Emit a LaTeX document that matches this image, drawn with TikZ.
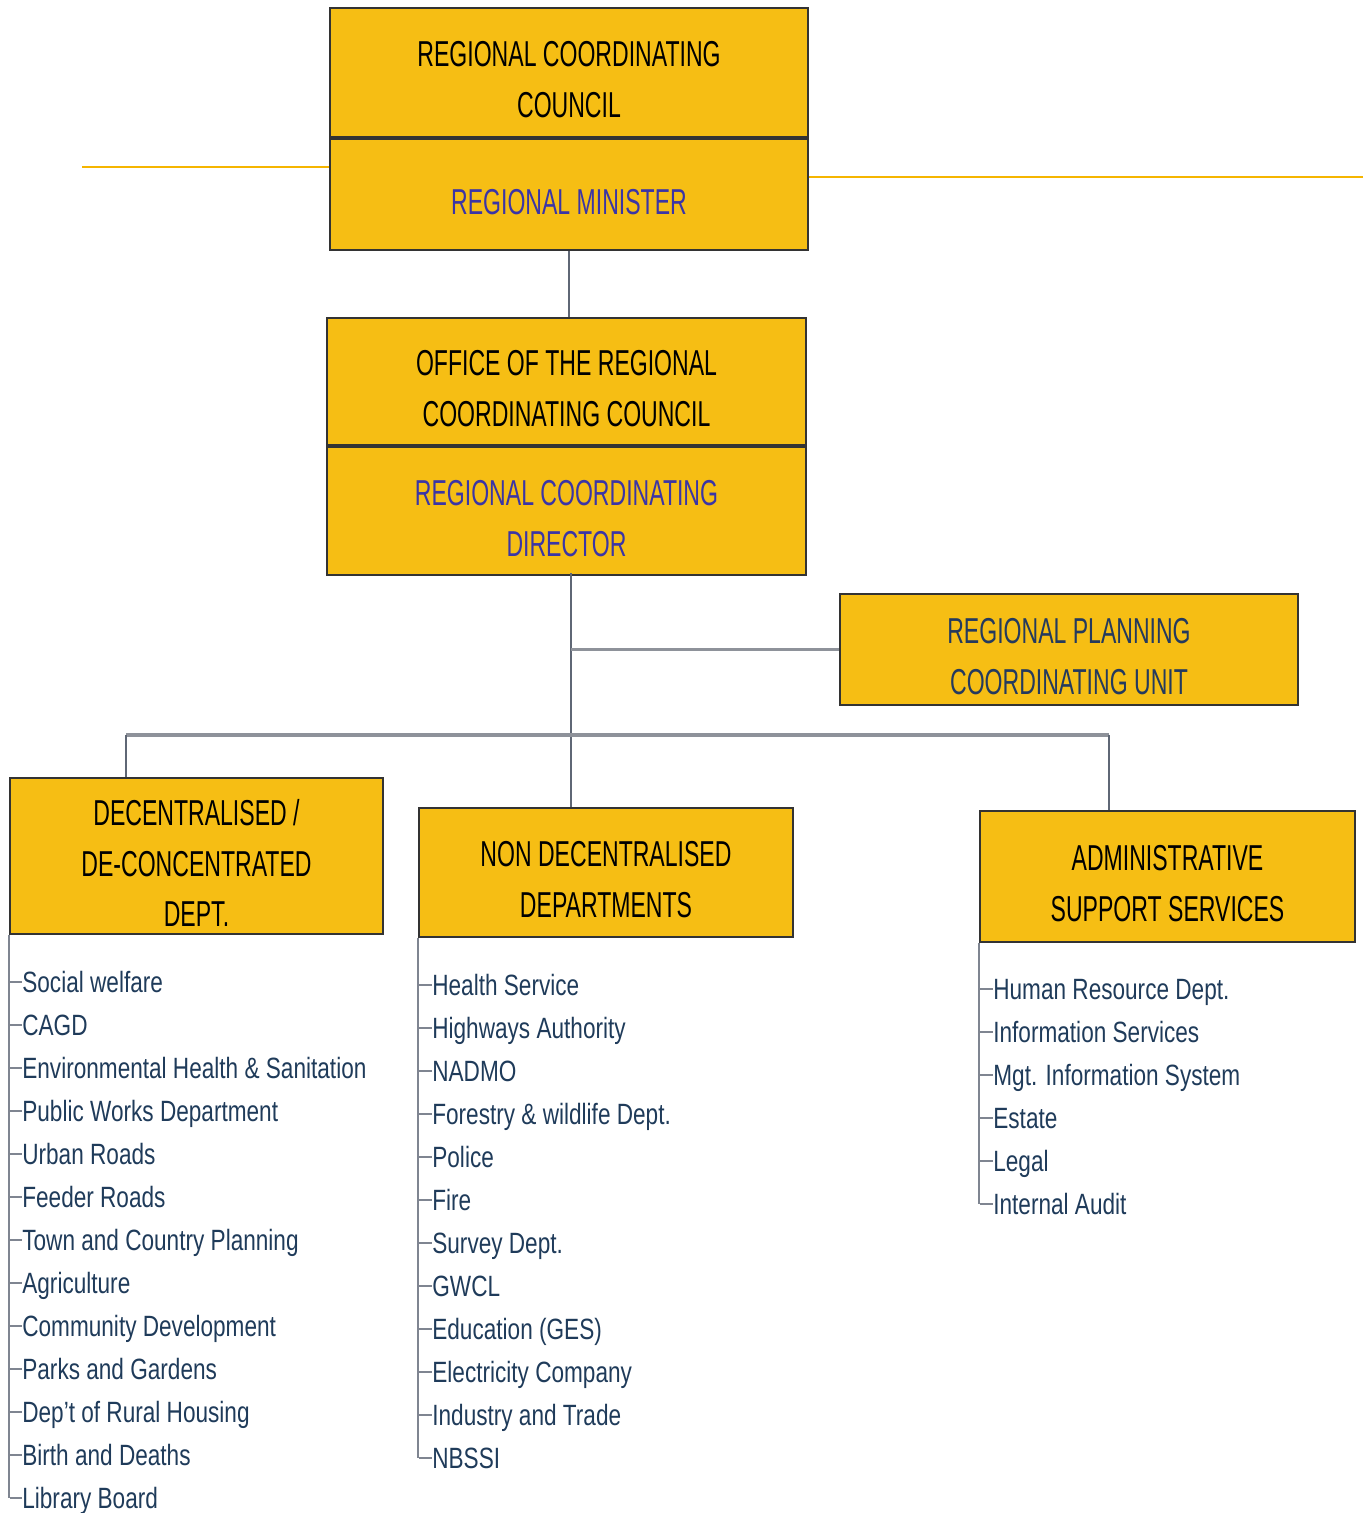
\documentclass[tikz,border=0pt]{standalone}
\usepackage{fontspec}
\setmainfont[FakeStretch=0.77]{Liberation Sans}
\newfontfamily\headfont[FakeStretch=0.64]{Liberation Sans}
\usetikzlibrary{positioning}
\definecolor{boxgold}{HTML}{F6BE14}
\definecolor{bandgold}{HTML}{F5B500}
\definecolor{chiefblue}{HTML}{3B35A6}
\definecolor{unitblue}{HTML}{243A5E}
\definecolor{listblue}{HTML}{1F3B5A}
\definecolor{linegray}{HTML}{5F6775}
\definecolor{bargray}{HTML}{8E929A}
\newcommand{\hstrut}{\rule{0pt}{0.8cm}}
\begin{document}
\begin{tikzpicture}[x=0.02cm,y=-0.02cm,
		box/.style={draw=black!80,line width=1.1pt,fill=boxgold,inner sep=0pt,align=center,
			font=\headfont\fontsize{20.5}{29}\selectfont},
		conn/.style={draw=linegray,line width=0.6pt},
		bar/.style={draw=bargray,line width=1.8pt},
		band/.style={draw=bandgold,line width=1.2pt},
		twig/.style={draw=linegray!80,line width=0.8pt},
		item/.style={anchor=west,inner sep=0pt,text height=0.42cm,text depth=0pt,
			text=listblue,font=\fontsize{16.7}{20}\selectfont}]
	\useasboundingbox (0,0) rectangle (1363,1513);
	% top of the chart
	\node[box,minimum width=9.56cm,minimum height=2.58cm] (rcc) at (569,72.5) {\hstrut REGIONAL COORDINATING\\COUNCIL};
	\node[box,minimum width=9.56cm,minimum height=2.22cm,below=0pt of rcc,text=chiefblue] (minister) {\hstrut REGIONAL MINISTER};
	\coordinate (bandl) at (82,167);
	\coordinate (bandr) at (1363,177);
	\draw[band] (bandl) -- (bandl -| minister.west);
	\draw[band] (bandr) -- (bandr -| minister.east);
	\node[box,minimum width=9.58cm,minimum height=2.54cm] (office) at (566.5,381.5) {\hstrut OFFICE OF THE REGIONAL\\COORDINATING COUNCIL};
	\node[box,minimum width=9.58cm,minimum height=2.56cm,below=0pt of office,text=chiefblue] (director) {\hstrut REGIONAL COORDINATING\\DIRECTOR};
	\node[box,minimum width=9.16cm,minimum height=2.22cm,text=unitblue] (rpcu) at (1069,649.5) {\hstrut REGIONAL PLANNING\\COORDINATING UNIT};
	% departments
	\node[box,minimum width=7.46cm,minimum height=3.12cm] (decon) at (196.5,856) {\hstrut DECENTRALISED /\\DE-CONCENTRATED\\DEPT.};
	\node[box,minimum width=7.48cm,minimum height=2.58cm] (nondec) at (606,872.5) {\hstrut NON DECENTRALISED\\DEPARTMENTS};
	\node[box,minimum width=7.5cm,minimum height=2.62cm] (admin) at (1167.5,876.5) {\hstrut ADMINISTRATIVE\\SUPPORT SERVICES};
	\draw[conn] (minister.south) -- (minister.south |- office.north);
	\coordinate (trunk) at (571,573);
	\draw[conn] (trunk) -- (trunk |- nondec.north);
	\draw[bar] (trunk |- rpcu.west) -- (rpcu.west);
	\coordinate (lbar) at (126,735);
	\coordinate (rbar) at (1109,735);
	\draw[bar] (lbar) -- (rbar);
	\draw[conn] (lbar) -- (lbar |- decon.north);
	\draw[conn] (rbar) -- (rbar |- admin.north);
	% lists
	\foreach \t [count=\i] in {Social welfare,CAGD,Environmental Health \& Sanitation,Public Works Department,
		Urban Roads,Feeder Roads,Town and Country Planning,Agriculture,Community Development,
		Parks and Gardens,Dep't of Rural Housing,Birth and Deaths,Library Board}{
		\node[item] (dc\i) at (22,939+43*\i) {\t};
		\draw[twig] (10,939+43*\i) -- (dc\i.west);
	}
	\draw[twig] (decon.south west) -- (decon.south west |- dc13.west);
	\foreach \t [count=\i] in {Health Service,Highways Authority,NADMO,Forestry \& wildlife Dept.,Police,Fire,
		Survey Dept.,GWCL,Education (GES),Electricity Company,Industry and Trade,NBSSI}{
		\node[item] (nd\i) at (432,942+43*\i) {\t};
		\draw[twig] (419,942+43*\i) -- (nd\i.west);
	}
	\draw[twig] (nondec.south west) -- (nondec.south west |- nd12.west);
	\foreach \t [count=\i] in {Human Resource Dept.,Information Services,Mgt. Information System,Estate,Legal,Internal Audit}{
		\node[item] (as\i) at (993,946+43*\i) {\t};
		\draw[twig] (980,946+43*\i) -- (as\i.west);
	}
	\draw[twig] (admin.south west) -- (admin.south west |- as6.west);
\end{tikzpicture}
\end{document}
